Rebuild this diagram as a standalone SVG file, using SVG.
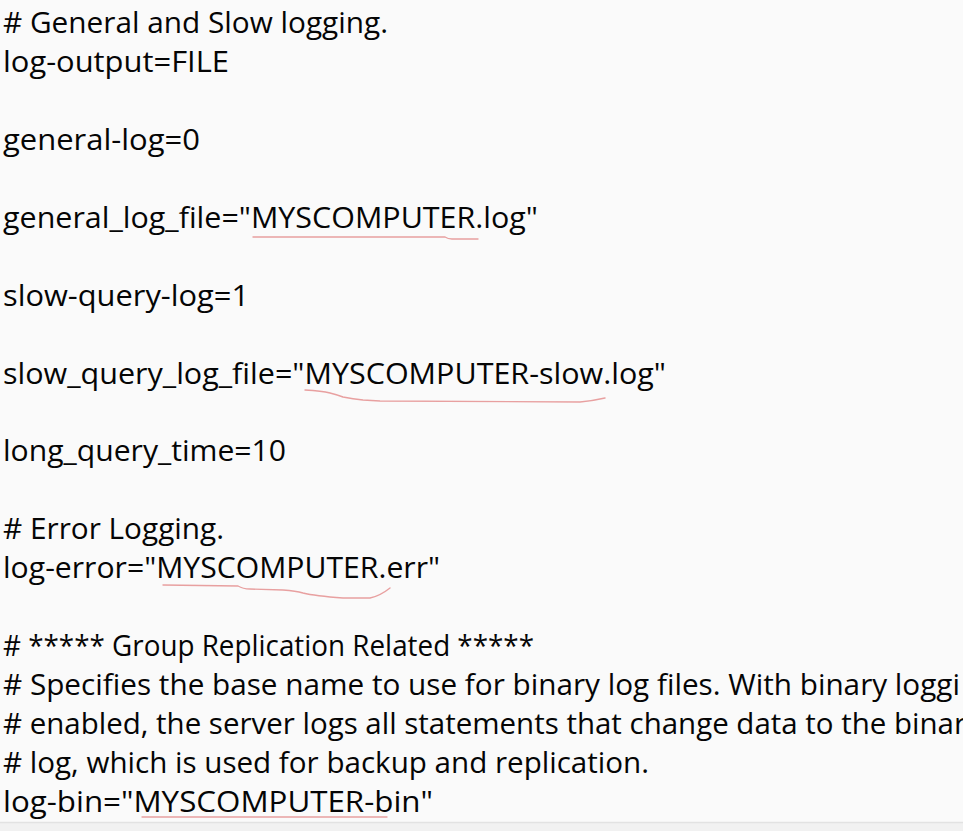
<svg xmlns="http://www.w3.org/2000/svg" width="963" height="831" viewBox="0 0 963 831">
<style>
.t{font-family:"Open Sans","Noto Sans","Liberation Sans",sans-serif;font-size:29px;fill:#050505}
.u{fill:none;stroke:#e8a0a0;stroke-width:1.4;stroke-linejoin:round;stroke-linecap:round}
</style>
<rect x="0" y="0" width="963" height="831" fill="#fafafa"/>
<rect x="0" y="822" width="963" height="9" fill="#f1f1f1"/>
<line x1="0" y1="822.5" x2="963" y2="822.5" stroke="#e2e2e2" stroke-width="1.5"/>
<g id="text">
<text class="t" x="3" y="33" textLength="385" lengthAdjust="spacingAndGlyphs"># General and Slow logging.</text>
<text class="t" x="3" y="72" textLength="226" lengthAdjust="spacingAndGlyphs">log-output=FILE</text>
<text class="t" x="3" y="150" textLength="197" lengthAdjust="spacingAndGlyphs">general-log=0</text>
<text class="t" x="3" y="228" textLength="535" lengthAdjust="spacingAndGlyphs">general_log_file="MYSCOMPUTER.log"</text>
<text class="t" x="3" y="306" textLength="246" lengthAdjust="spacingAndGlyphs">slow-query-log=1</text>
<text class="t" x="3" y="384" textLength="663" lengthAdjust="spacingAndGlyphs">slow_query_log_file="MYSCOMPUTER-slow.log"</text>
<text class="t" x="3" y="461" textLength="283" lengthAdjust="spacingAndGlyphs">long_query_time=10</text>
<text class="t" x="3" y="539" textLength="221" lengthAdjust="spacingAndGlyphs"># Error Logging.</text>
<text class="t" x="3" y="578" textLength="437" lengthAdjust="spacingAndGlyphs">log-error="MYSCOMPUTER.err"</text>
<text class="t" x="3" y="656" textLength="531" lengthAdjust="spacingAndGlyphs"># ***** Group Replication Related *****</text>
<text class="t" x="3" y="695" textLength="957" lengthAdjust="spacingAndGlyphs"># Specifies the base name to use for binary log files. With binary loggi</text>
<text class="t" x="3" y="734" textLength="963" lengthAdjust="spacingAndGlyphs"># enabled, the server logs all statements that change data to the binar</text>
<text class="t" x="3" y="773" textLength="646" lengthAdjust="spacingAndGlyphs"># log, which is used for backup and replication.</text>
<text class="t" x="3" y="812" textLength="430" lengthAdjust="spacingAndGlyphs">log-bin="MYSCOMPUTER-bin"</text>
</g>
<g id="underlines">
<path class="u" d="M253,237 L445,237 Q448,239 452,239 L478,239"/>
<path class="u" d="M305,390 Q322,391 330,393 Q338,395 343,397 Q353,399 363,400 L380,401 L580,402 Q592,401 605,398"/>
<path class="u" d="M163,585 L238,586 Q243,589 250,589 L283,590 Q296,591 303,593 Q315,596 343,598 L370,598 Q380,596 390,588"/>
<path class="u" d="M142,817 L387,817"/>
</g>
</svg>
